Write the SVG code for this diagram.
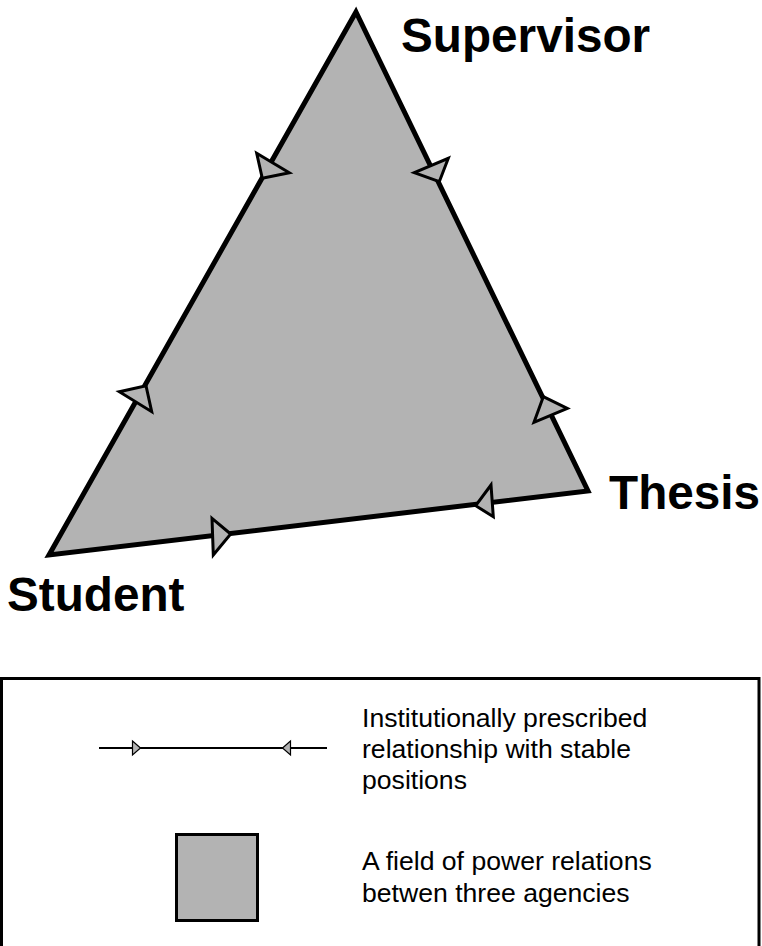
<svg xmlns="http://www.w3.org/2000/svg" width="762" height="946" viewBox="0 0 762 946">
<style>
.field{fill:#b3b3b3;stroke:#000;stroke-width:5;stroke-linejoin:miter;stroke-miterlimit:10}
.head{fill:#b3b3b3;stroke:#000;stroke-width:3;stroke-linejoin:miter}
.lbl{font-family:"Liberation Sans",Arial,sans-serif;font-weight:bold;font-size:47.7px;fill:#000}
.leg{font-family:"Liberation Sans",Arial,sans-serif;font-size:26.6px;fill:#000}
</style>
<rect width="762" height="946" fill="#fff"/>
<g id="field">
<polygon class="field" points="356,12 588,491 49,555"/>
</g>
<g id="connectors">
<polygon class="head" points="256.7,153.3 289.3,172.7 262.3,178.3"/>
<polygon class="head" points="414.3,172.7 448.3,158.3 439.3,181.7"/>
<polygon class="head" points="119.3,391.7 146,385.7 151.7,411.7"/>
<polygon class="head" points="543.3,396.7 567.3,408.3 534,422.3"/>
<polygon class="head" points="491,485 475.7,505.7 493.3,516.7"/>
<polygon class="head" points="212,518.3 230.7,534 213.3,555"/>
</g>
<g id="supervisor"><text class="lbl" x="401" y="52">Supervisor</text></g>
<g id="thesis"><text class="lbl" x="609" y="509">Thesis</text></g>
<g id="student"><text class="lbl" x="7" y="611">Student</text></g>
<g id="legend">
<rect x="1.5" y="678.5" width="757.5" height="300" fill="none" stroke="#000" stroke-width="3"/>
<line x1="99" y1="748" x2="327" y2="748" stroke="#000" stroke-width="2"/>
<polygon points="132.5,741 140.5,748 132.5,755" fill="#b3b3b3" stroke="#000" stroke-width="1.2"/>
<polygon points="290.5,741 282.5,748 290.5,755" fill="#b3b3b3" stroke="#000" stroke-width="1.2"/>
<text class="leg" x="362" y="727">Institutionally prescribed</text>
<text class="leg" x="362" y="758">relationship with stable</text>
<text class="leg" x="362" y="789">positions</text>
<rect x="176.5" y="834.5" width="81" height="86" fill="#b3b3b3" stroke="#000" stroke-width="3"/>
<text class="leg" x="362" y="870">A field of power relations</text>
<text class="leg" x="362" y="902">betwen three agencies</text>
</g>
</svg>
